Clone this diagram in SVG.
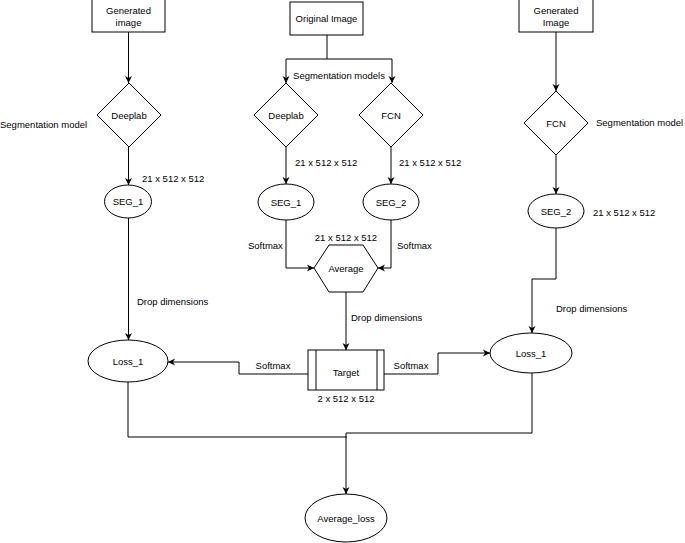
<svg xmlns="http://www.w3.org/2000/svg" width="685" height="543" viewBox="0 0 685 543">
<defs>
<marker id="ah" markerWidth="8" markerHeight="8" refX="7" refY="4" orient="auto" markerUnits="userSpaceOnUse">
<path d="M0,0.5 L7,4 L0,7.5 L2,4 Z" fill="#000"/>
</marker>
<style>
.s{fill:#fff;stroke:#000;stroke-width:1}
.t{font-family:"Liberation Sans",Arial,sans-serif;font-size:9.5px;fill:#000;text-anchor:middle;dominant-baseline:central}
.l{font-family:"Liberation Sans",Arial,sans-serif;font-size:9.5px;fill:#000;dominant-baseline:central}
.c{fill:none;stroke:#000;stroke-width:1;marker-end:url(#ah)}
.n{fill:none;stroke:#000;stroke-width:1}
</style>
</defs>
<rect width="685" height="543" fill="#fff"/>
<g id="connectors">
<path class="c" d="M128.5,32 V83"/>
<path class="c" d="M128.5,147 V185"/>
<path class="c" d="M128.5,218 V340"/>
<path class="n" d="M327,35 V59 M286,59 H392"/>
<path class="c" d="M286,59 V83"/>
<path class="c" d="M392,59 V83"/>
<path class="c" d="M286,147 V184"/>
<path class="c" d="M391,147 V184"/>
<path class="c" d="M286,220 V268 H314"/>
<path class="c" d="M391,220 V268 H378"/>
<path class="c" d="M346,292 V350"/>
<path class="c" d="M308,374 H239 V362 H168"/>
<path class="c" d="M384,374 H438 V353 H490"/>
<path class="c" d="M556,32 V91"/>
<path class="c" d="M556,155 V194"/>
<path class="c" d="M556,228 V279 H532 V333"/>
<path class="n" d="M128,382 V437 H347"/>
<path class="c" d="M532,373 V433 H346 V494"/>
</g>
<g id="gen1">
<rect class="s" x="92" y="-1" width="73" height="33"/>
<text class="t" x="128.5" y="10">Generated</text>
<text class="t" x="128.5" y="22">image</text>
</g>
<g id="deeplab1">
<polygon class="s" points="129,83 161,115 129,147 97,115"/>
<text class="t" x="129" y="115">Deeplab</text>
</g>
<text class="l" x="0" y="124">Segmentation model</text>
<text class="l" x="142" y="178">21 x 512 x 512</text>
<g id="seg1a">
<ellipse class="s" cx="128" cy="201.5" rx="23.5" ry="16.5"/>
<text class="t" x="128" y="201.5">SEG_1</text>
</g>
<text class="l" x="137" y="301">Drop dimensions</text>
<g id="loss1a">
<ellipse class="s" cx="128" cy="361" rx="40" ry="21"/>
<text class="t" x="128" y="361">Loss_1</text>
</g>
<g id="orig">
<rect class="s" x="290" y="2" width="73" height="33"/>
<text class="t" x="326.5" y="18.5">Original Image</text>
</g>
<text class="t" x="339" y="75">Segmentation models</text>
<g id="deeplab2">
<polygon class="s" points="286,83 318,115 286,147 254,115"/>
<text class="t" x="286" y="115">Deeplab</text>
</g>
<g id="fcn1">
<polygon class="s" points="391,83 423,115 391,147 359,115"/>
<text class="t" x="391" y="115">FCN</text>
</g>
<text class="l" x="295" y="162">21 x 512 x 512</text>
<text class="l" x="399" y="162">21 x 512 x 512</text>
<g id="seg1b">
<ellipse class="s" cx="286" cy="202" rx="28" ry="18"/>
<text class="t" x="286" y="202">SEG_1</text>
</g>
<g id="seg2b">
<ellipse class="s" cx="391" cy="202" rx="28" ry="18"/>
<text class="t" x="391" y="202">SEG_2</text>
</g>
<text class="l" x="248" y="245">Softmax</text>
<text class="l" x="397" y="245">Softmax</text>
<text class="t" x="346" y="237">21 x 512 x 512</text>
<g id="average">
<polygon class="s" points="314,268 329,245 363,245 378,268 363,292 329,292"/>
<text class="t" x="346" y="268">Average</text>
</g>
<text class="l" x="351" y="317">Drop dimensions</text>
<g id="target">
<rect class="s" x="308" y="350" width="76" height="40"/>
<path class="n" d="M316,350 V390 M377,350 V390"/>
<text class="t" x="346" y="372">Target</text>
</g>
<text class="t" x="346" y="398">2 x 512 x 512</text>
<text class="t" x="273" y="365">Softmax</text>
<text class="t" x="411" y="365">Softmax</text>
<g id="gen2">
<rect class="s" x="519" y="-1" width="74" height="33"/>
<text class="t" x="556" y="10">Generated</text>
<text class="t" x="556" y="22">Image</text>
</g>
<g id="fcn2">
<polygon class="s" points="556,91 588,123 556,155 524,123"/>
<text class="t" x="556" y="123">FCN</text>
</g>
<text class="l" x="596" y="122">Segmentation model</text>
<g id="seg2a">
<ellipse class="s" cx="556" cy="211" rx="28" ry="17"/>
<text class="t" x="556" y="211">SEG_2</text>
</g>
<text class="l" x="593" y="212">21 x 512 x 512</text>
<text class="l" x="556" y="308">Drop dimensions</text>
<g id="loss1b">
<ellipse class="s" cx="531" cy="353" rx="41" ry="20"/>
<text class="t" x="531" y="353">Loss_1</text>
</g>
<g id="avgloss">
<ellipse class="s" cx="346" cy="518" rx="41" ry="24"/>
<text class="t" x="346" y="518">Average_loss</text>
</g>
</svg>
